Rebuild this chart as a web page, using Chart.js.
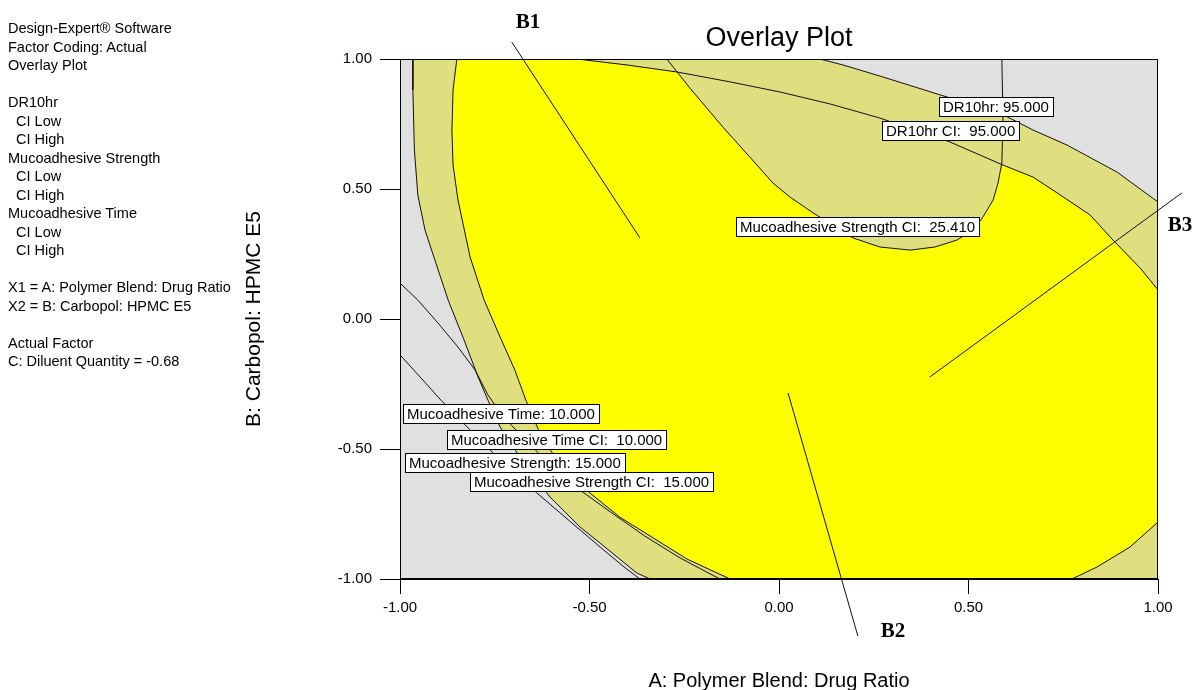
<!DOCTYPE html>
<html lang="en">
<head>
<meta charset="UTF-8">
<title>Overlay Plot</title>
<style>
    body, html {
        margin: 0;
        padding: 0;
        background: #fff;
    }
    #wrap {
        position: relative;
        width: 1194px;
        height: 690px;
        overflow: hidden;
    }
    #overlay {
        position: absolute;
        left: 0;
        top: 0;
    }
    #notes {
        position: absolute;
        left: 8px;
        top: 19px;
        font-family: "Liberation Sans", Arial, sans-serif;
        font-size: 14.5px;
        line-height: 18.5px;
        color: #000;
        white-space: pre;
    }
</style>
</head>
<body>
<div id="wrap">
    <canvas id="overlay" width="1194" height="690"></canvas>
    <div id="notes">Design-Expert® Software
Factor Coding: Actual
Overlay Plot

DR10hr
  CI Low
  CI High
Mucoadhesive Strength
  CI Low
  CI High
Mucoadhesive Time
  CI Low
  CI High

X1 = A: Polymer Blend: Drug Ratio
X2 = B: Carbopol: HPMC E5

Actual Factor
C: Diluent Quantity = -0.68</div>
</div>
<script src="https://cdn.jsdelivr.net/npm/chart.js"></script>
<script>
// axis ticks
const xTicks = [-1, -0.5, 0, 0.5, 1];
const yTicks = [-1, -0.5, 0, 0.5, 1];
const xTickLabels = ['-1.00', '-0.50', '0.00', '0.50', '1.00'];
const yTickLabels = ['-1.00', '-0.50', '0.00', '0.50', '1.00'];

// contours, [A, B] in coded units
// edge grey / khaki on the left
const meanLeft = [[-0.966, 1.0], [-0.966, 0.881], [-0.962, 0.650], [-0.953, 0.477], [-0.934, 0.342],
    [-0.908, 0.227], [-0.873, 0.073], [-0.828, -0.092], [-0.794, -0.223], [-0.768, -0.312],
    [-0.736, -0.415], [-0.670, -0.562], [-0.604, -0.685], [-0.525, -0.800], [-0.472, -0.862],
    [-0.375, -0.977], [-0.340, -1.0]];
// edge khaki / yellow on the left
const ciLeft = [[-0.850, 1.0], [-0.860, 0.881], [-0.863, 0.727], [-0.860, 0.592], [-0.847, 0.458],
    [-0.815, 0.238], [-0.778, 0.073], [-0.736, -0.069], [-0.697, -0.196], [-0.668, -0.312],
    [-0.623, -0.465], [-0.565, -0.581], [-0.499, -0.669], [-0.420, -0.762], [-0.332, -0.842],
    [-0.243, -0.923], [-0.129, -1.0]];
// Mucoadhesive Time lines
const timeLine = [[-1.0, 0.138], [-0.953, 0.073], [-0.900, -0.015], [-0.847, -0.108], [-0.802, -0.196],
    [-0.768, -0.292], [-0.736, -0.358], [-0.702, -0.415], [-0.617, -0.542], [-0.525, -0.658],
    [-0.441, -0.746], [-0.354, -0.835], [-0.261, -0.919], [-0.156, -1.0]];
const strengthLine = [[-1.0, -0.138], [-0.947, -0.223], [-0.892, -0.312], [-0.823, -0.415],
    [-0.736, -0.542], [-0.639, -0.669], [-0.546, -0.785], [-0.472, -0.877], [-0.412, -0.950],
    [-0.367, -1.0]];
// DR10hr
const drCI = [[-0.533, 1.0], [-0.401, 0.977], [-0.269, 0.950], [-0.129, 0.912], [0.003, 0.873],
    [0.135, 0.827], [0.266, 0.773], [0.451, 0.681], [0.591, 0.592], [0.670, 0.546], [0.734, 0.485],
    [0.821, 0.400], [0.881, 0.304], [0.953, 0.196], [1.0, 0.112]];
const drMean = [[0.108, 1.0], [0.169, 0.977], [0.274, 0.931], [0.425, 0.862], [0.583, 0.792],
    [0.670, 0.727], [0.760, 0.669], [0.892, 0.565], [1.0, 0.450]];
// Mucoadhesive Strength CI 25.410
const strengthCI = [[-0.296, 1.0], [-0.235, 0.888], [-0.148, 0.738], [-0.077, 0.623], [-0.016, 0.523],
    [0.029, 0.469], [0.090, 0.408], [0.195, 0.312], [0.266, 0.277], [0.346, 0.265], [0.412, 0.277],
    [0.470, 0.304], [0.512, 0.342], [0.538, 0.392], [0.565, 0.458], [0.578, 0.523], [0.588, 0.600],
    [0.591, 0.777], [0.588, 1.0]];
// lower right corner
const cornerCI = [[0.773, -1.0], [0.839, -0.954], [0.926, -0.877], [1.0, -0.781]];

// design lines B1..B3
const b1Line = [[-0.705, 1.065], [-0.367, 0.312]];
const b2Line = [[0.024, -0.285], [0.208, -1.219]];
const b3Line = [[0.398, -0.223], [1.063, 0.485]];
const bNames = ['B1', 'B2', 'B3'];
const bAt = [[-0.662, 1.140], [0.301, -1.204], [1.058, 0.358]];

// contour labels, left edge and middle
const contourTexts = ['DR10hr: 95.000', 'DR10hr CI:  95.000', 'Mucoadhesive Strength CI:  25.410',
    'Mucoadhesive Time: 10.000', 'Mucoadhesive Time CI:  10.000', 'Mucoadhesive Strength: 15.000',
    'Mucoadhesive Strength CI:  15.000'];
const contourAt = [[0.422, 0.815], [0.272, 0.723], [-0.113, 0.354], [-0.992, -0.365],
    [-0.876, -0.465], [-0.987, -0.554], [-0.815, -0.627]];

const GREY = '#e0e0e0';
const KHAKI = '#e0df80';
const YELLOW = '#ffff00';
const FONT = '"Liberation Sans", Arial, sans-serif';

const pts = a => a.map(([x, y]) => ({x, y}));
const rev = a => a.slice().reverse();

function area(data, color, order) {
    return {data: pts(data), backgroundColor: color, borderWidth: 0, fill: 'shape',
        pointRadius: 0, order: order};
}
function curve(data, order) {
    return {data: pts(data), borderColor: '#111', borderWidth: 1, fill: false,
        pointRadius: 0, order: order};
}

const datasets = [
    area([[-1, -1], [1, -1], [1, 1], [-1, 1]], GREY, 10),
    area([...meanLeft, [1, -1], [1, 1]], KHAKI, 9),
    area([...drCI, ...rev(cornerCI), ...rev(ciLeft)], YELLOW, 8),
    area(strengthCI, KHAKI, 7),
    area([...drMean, [1, 1]], GREY, 6),
    curve(meanLeft, 2),
    curve(ciLeft, 2),
    curve(timeLine, 2),
    curve(strengthLine, 2),
    curve(drCI, 2),
    curve(drMean, 2),
    curve(strengthCI, 2),
    curve(cornerCI, 2),
    Object.assign(curve(b1Line, 1), {clip: false}),
    Object.assign(curve(b2Line, 1), {clip: false}),
    Object.assign(curve(b3Line, 1), {clip: false})
];

const overlayLabels = {
    id: 'overlayLabels',
    afterDatasetsDraw(chart) {
        const {ctx, chartArea: a, scales: {x, y}} = chart;
        ctx.save();
        ctx.strokeStyle = '#000';
        ctx.lineWidth = 1;
        ctx.strokeRect(Math.round(a.left) + 0.5, Math.round(a.top) + 0.5,
            Math.round(a.width) - 1, Math.round(a.height) - 1);

        ctx.font = '15px ' + FONT;
        ctx.textBaseline = 'middle';
        ctx.textAlign = 'left';
        contourTexts.forEach((t, i) => {
            const px = Math.round(x.getPixelForValue(contourAt[i][0]));
            const py = Math.round(y.getPixelForValue(contourAt[i][1]));
            const w = Math.round(ctx.measureText(t).width + 8);
            ctx.fillStyle = '#fff';
            ctx.fillRect(px, py - 10, w, 19);
            ctx.strokeRect(px + 0.5, py - 9.5, w, 19);
            ctx.fillStyle = '#000';
            ctx.fillText(t, px + 4, py + 0.5);
        });

        ctx.font = 'bold 21px "Liberation Serif", "Times New Roman", serif';
        ctx.textAlign = 'center';
        bNames.forEach((t, i) => {
            ctx.fillText(t, x.getPixelForValue(bAt[i][0]), y.getPixelForValue(bAt[i][1]));
        });
        ctx.restore();
    }
};

Chart.defaults.font.family = FONT;
Chart.defaults.color = '#000';

new Chart(document.getElementById('overlay'), {
    type: 'line',
    data: {datasets: datasets},
    options: {
        responsive: false,
        animation: false,
        devicePixelRatio: 1,
        layout: {padding: {left: 232, right: 36, top: 0, bottom: 0}},
        plugins: {
            legend: {display: false},
            tooltip: {enabled: false},
            title: {
                display: true,
                text: 'Overlay Plot',
                fullSize: false,
                color: '#000',
                font: {size: 27, weight: 'normal'},
                padding: {top: 22, bottom: 4.6}
            }
        },
        scales: {
            x: {
                type: 'linear',
                min: -1,
                max: 1,
                afterBuildTicks: s => { s.ticks = xTicks.map(v => ({value: v})); },
                afterFit: s => { s.height = 111; },
                ticks: {
                    autoSkip: false,
                    maxRotation: 0,
                    padding: 5,
                    font: {size: 15},
                    callback: (v, i) => xTickLabels[i]
                },
                grid: {drawOnChartArea: false, tickLength: 15, color: '#000'},
                border: {display: true, color: '#000'},
                title: {
                    display: true,
                    text: 'A: Polymer Blend: Drug Ratio',
                    font: {size: 20, lineHeight: 1},
                    padding: {top: 0, bottom: -1}
                }
            },
            y: {
                type: 'linear',
                min: -1,
                max: 1,
                afterBuildTicks: s => { s.ticks = yTicks.map(v => ({value: v})); },
                afterFit: s => { s.width = 168; },
                ticks: {
                    autoSkip: false,
                    padding: 8,
                    font: {size: 15},
                    callback: (v, i) => yTickLabels[i]
                },
                grid: {drawOnChartArea: false, tickLength: 20, color: '#000'},
                border: {display: true, color: '#000'},
                title: {
                    display: true,
                    text: 'B: Carbopol: HPMC E5',
                    font: {size: 21, lineHeight: 1},
                    padding: {top: 11.5, bottom: 0}
                }
            }
        }
    },
    plugins: [overlayLabels]
});
</script>
</body>
</html>
